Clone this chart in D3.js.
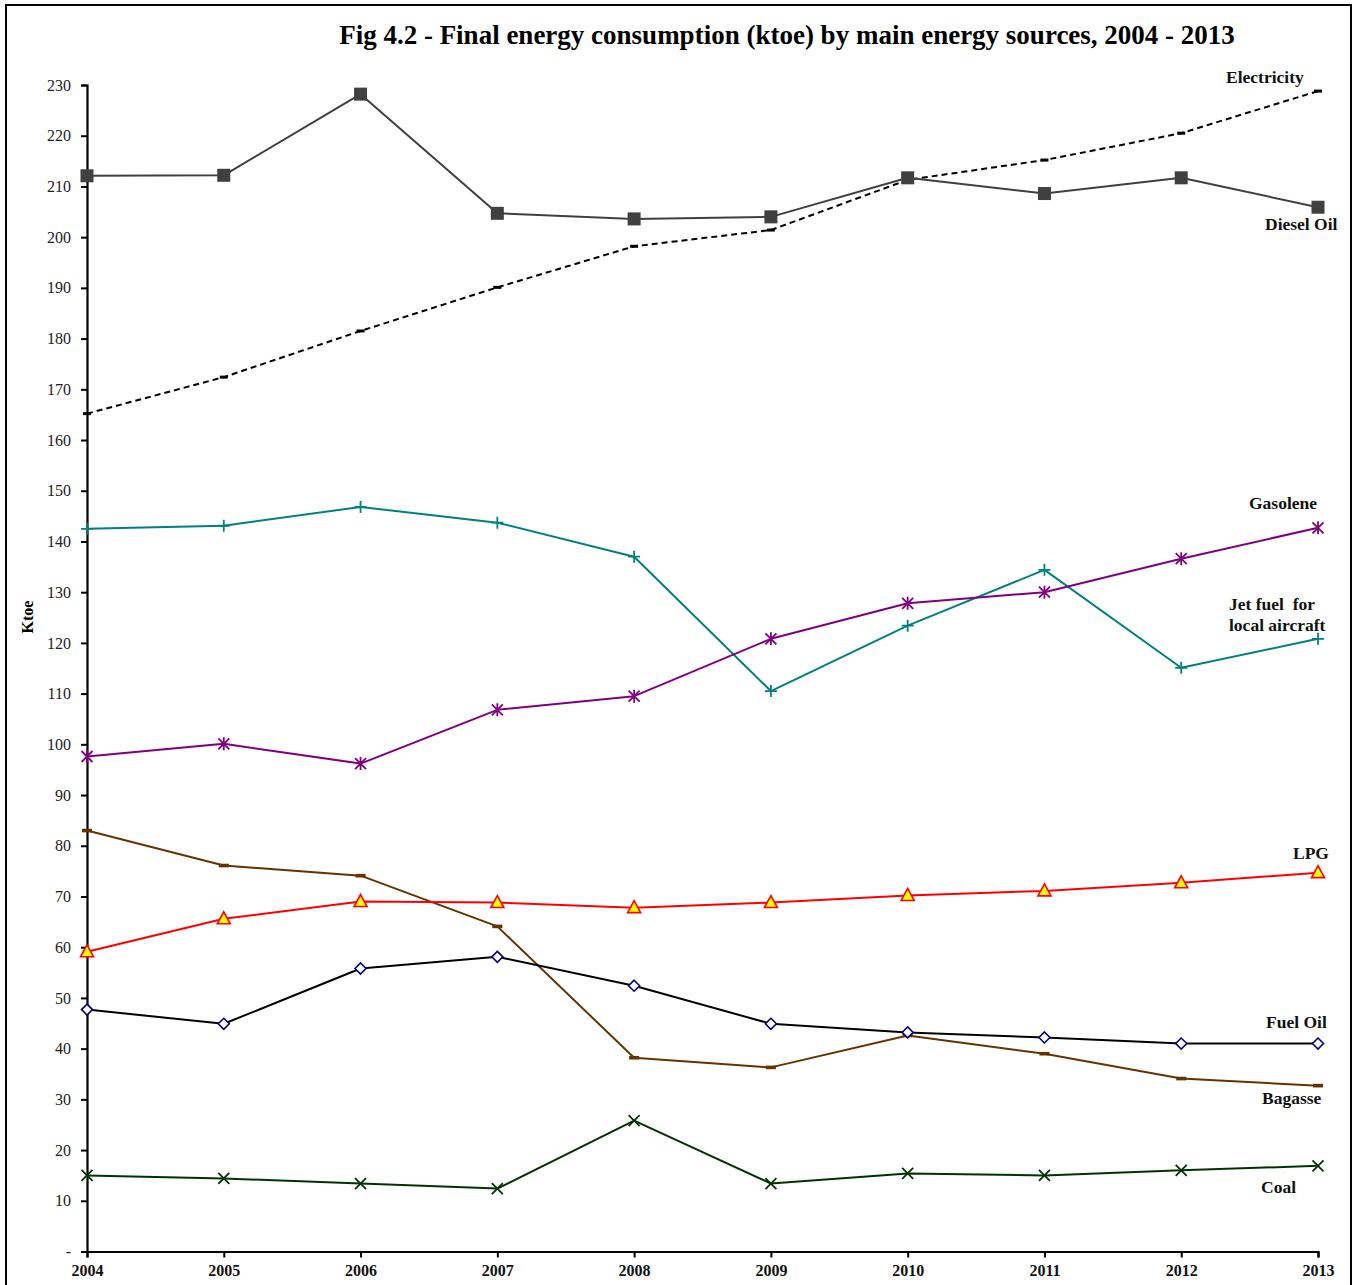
<!DOCTYPE html>
<html>
<head>
<meta charset="utf-8">
<script src="https://cdn.jsdelivr.net/npm/d3@7"></script>
<style>
  html, body { margin: 0; padding: 0; background: #fff; }
  svg { display: block; }
</style>
</head>
<body>
<svg id="chart" width="1362" height="1285"></svg>
<script>
// Final energy consumption (ktoe) by main energy sources, 2004 - 2013
const years = [2004, 2005, 2006, 2007, 2008, 2009, 2010, 2011, 2012, 2013];
const yTicks = [0, 10, 20, 30, 40, 50, 60, 70, 80, 90, 100, 110, 120, 130, 140, 150, 160, 170, 180, 190, 200, 210, 220, 230];

const dieselOil   = [212.1, 212.2, 228.2, 204.7, 203.6, 204.0, 211.7, 208.6, 211.7, 205.9];
const electricity = [165.2, 172.4, 181.5, 190.1, 198.2, 201.4, 211.3, 215.2, 220.5, 228.8];
const jetFuel     = [142.5, 143.1, 146.8, 143.7, 137.0, 110.5, 123.4, 134.4, 115.1, 120.8];
const gasolene    = [97.6, 100.1, 96.2, 106.8, 109.5, 120.8, 127.8, 130.0, 136.6, 142.7];
const bagasse     = [83.0, 76.1, 74.1, 64.1, 38.2, 36.3, 42.6, 39.0, 34.1, 32.7];
const lpg         = [59.1, 65.6, 69.0, 68.8, 67.8, 68.8, 70.2, 71.1, 72.7, 74.7];
const fuelOil     = [47.7, 44.9, 55.8, 58.1, 52.4, 44.9, 43.2, 42.2, 41.0, 41.0];
const coal        = [15.0, 14.4, 13.4, 12.4, 25.8, 13.4, 15.4, 15.0, 16.0, 16.9];

const svg = d3.select("#chart");
const serif = "'Liberation Serif', 'Times New Roman', serif";

// outer frame
svg.append("rect")
  .attr("x", 6).attr("y", 5)
  .attr("width", 1345).attr("height", 1300)
  .attr("fill", "none").attr("stroke", "#000").attr("stroke-width", 2);

const x = d3.scaleLinear().domain([2004, 2013]).range([87, 1318]);
const y = d3.scaleLinear().domain([0, 230]).range([1251.5, 85]);

// title
svg.append("text")
  .attr("x", 787).attr("y", 44)
  .attr("text-anchor", "middle")
  .attr("font-family", serif).attr("font-weight", "bold").attr("font-size", 27)
  .attr("fill", "#000")
  .text("Fig 4.2 - Final energy consumption (ktoe) by main energy sources, 2004 - 2013");

// y axis
const yAxis = svg.append("g")
  .attr("transform", `translate(${x.range()[0]},0)`)
  .call(d3.axisLeft(y).tickValues(yTicks).tickSize(6).tickPadding(10)
    .tickFormat(d => d === 0 ? "-" : d));
yAxis.select(".domain").attr("stroke", "#000").attr("stroke-width", 2.2);
yAxis.selectAll(".tick line").attr("stroke", "#000").attr("stroke-width", 2);
yAxis.selectAll(".tick text")
  .attr("font-family", serif).attr("font-size", 16).attr("fill", "#222");

// x axis
const xAxis = svg.append("g")
  .attr("transform", `translate(0,${y(0)})`)
  .call(d3.axisBottom(x).tickValues(years).tickSize(6).tickPadding(7)
    .tickFormat(d3.format("d")));
xAxis.select(".domain").attr("stroke", "#000").attr("stroke-width", 2.2);
xAxis.selectAll(".tick line").attr("stroke", "#000").attr("stroke-width", 2);
xAxis.selectAll(".tick text")
  .attr("font-family", serif).attr("font-size", 16).attr("font-weight", "bold").attr("fill", "#111");

// y axis title
svg.append("text")
  .attr("transform", "translate(33,617) rotate(-90)")
  .attr("text-anchor", "middle")
  .attr("font-family", serif).attr("font-weight", "bold").attr("font-size", 16)
  .attr("fill", "#000")
  .text("Ktoe");

const line = d3.line().x((d, i) => x(years[i])).y(d => y(d));

const series = [
  { values: electricity, color: "#000", width: 2, dash: "6,4", marker: "dash", markerColor: "#000" },
  { values: dieselOil, color: "#404040", width: 2, marker: "square", markerColor: "#404040" },
  { values: jetFuel, color: "#008080", width: 2, marker: "plus", markerColor: "#008080" },
  { values: gasolene, color: "#800080", width: 2, marker: "asterisk", markerColor: "#800080" },
  { values: bagasse, color: "#663300", width: 2, marker: "bar", markerColor: "#663300" },
  { values: fuelOil, color: "#000", width: 2, marker: "diamond", markerColor: "#000080" },
  { values: lpg, color: "#ff0000", width: 2, marker: "triangle", markerColor: "#ff0000" },
  { values: coal, color: "#003300", width: 2, marker: "cross", markerColor: "#003300" }
];

series.forEach(s => {
  svg.append("path")
    .datum(s.values)
    .attr("d", line)
    .attr("fill", "none")
    .attr("stroke", s.color)
    .attr("stroke-width", s.width)
    .attr("stroke-dasharray", s.dash || null)
    .attr("stroke-linejoin", "round");

  const g = svg.append("g");
  s.values.forEach((v, i) => {
    const cx = x(years[i]), cy = y(v);
    const m = g.append("g").attr("transform", `translate(${cx},${cy})`);
    switch (s.marker) {
      case "square":
        m.append("rect").attr("x", -6.5).attr("y", -6.5).attr("width", 13).attr("height", 13)
          .attr("fill", s.markerColor);
        break;
      case "dash":
        m.append("rect").attr("x", -4).attr("y", -1.5).attr("width", 8).attr("height", 3)
          .attr("fill", s.markerColor);
        break;
      case "bar":
        m.append("rect").attr("x", -5).attr("y", -1.8).attr("width", 10).attr("height", 3.6)
          .attr("fill", s.markerColor);
        break;
      case "plus":
        m.append("path").attr("d", "M-6,0H6M0,-6V6")
          .attr("stroke", s.markerColor).attr("stroke-width", 1.8).attr("fill", "none");
        break;
      case "cross":
        m.append("path").attr("d", "M-5.5,-5.5L5.5,5.5M-5.5,5.5L5.5,-5.5")
          .attr("stroke", s.markerColor).attr("stroke-width", 1.8).attr("fill", "none");
        break;
      case "asterisk":
        m.append("path").attr("d", "M-5.5,-5.5L5.5,5.5M-5.5,5.5L5.5,-5.5M0,-6.5V6.5")
          .attr("stroke", s.markerColor).attr("stroke-width", 1.8).attr("fill", "none");
        break;
      case "diamond":
        m.append("path").attr("d", "M0,-5.5L5.5,0L0,5.5L-5.5,0Z")
          .attr("stroke", s.markerColor).attr("stroke-width", 1.6).attr("fill", "#fff");
        break;
      case "triangle":
        m.append("path").attr("d", "M0,-7L6.5,5L-6.5,5Z")
          .attr("stroke", s.markerColor).attr("stroke-width", 1.6).attr("fill", "#ffff00")
          .attr("stroke-linejoin", "miter");
        break;
    }
  });
});

// series labels
const labels = [
  { text: ["Electricity"], x: 1226, y: 83 },
  { text: ["Diesel Oil"], x: 1265, y: 230 },
  { text: ["Gasolene"], x: 1249, y: 509 },
  { text: ["Jet fuel\u00a0 for", "local aircraft"], x: 1229, y: 610 },
  { text: ["LPG"], x: 1293, y: 859 },
  { text: ["Fuel Oil"], x: 1266, y: 1028 },
  { text: ["Bagasse"], x: 1262, y: 1104 },
  { text: ["Coal"], x: 1261, y: 1193 }
];
labels.forEach(l => {
  const t = svg.append("text")
    .attr("font-family", serif).attr("font-weight", "bold").attr("font-size", 17.5)
    .attr("fill", "#111");
  l.text.forEach((line, i) => {
    t.append("tspan").attr("x", l.x).attr("y", l.y + i * 21).text(line);
  });
});
</script>
</body>
</html>
